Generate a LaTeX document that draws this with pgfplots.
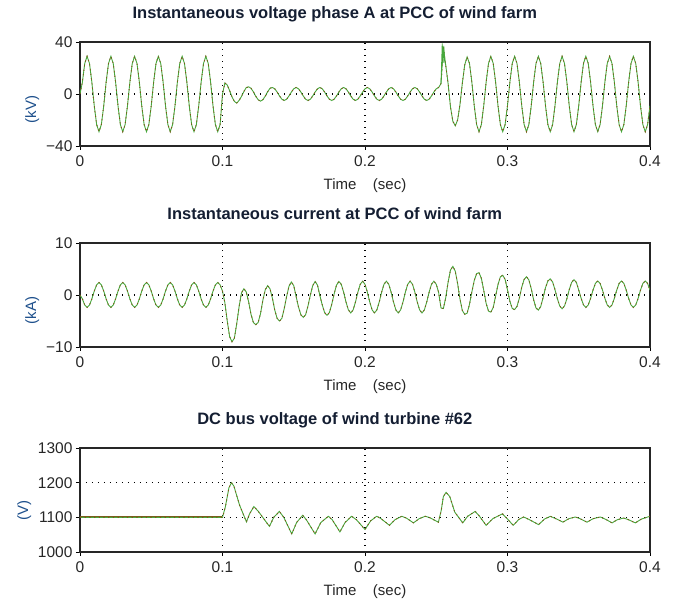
\documentclass[border=0pt]{standalone}
\usepackage{fontspec}
\setmainfont{Liberation Sans}
\usepackage{pgfplots}
\pgfplotsset{compat=1.18}
\usepackage{pgfplotstable}
\definecolor{lgreen}{RGB}{70,168,60}
\definecolor{lbrown}{RGB}{130,85,25}
\definecolor{ttl}{RGB}{20,30,50}
\definecolor{ylab}{RGB}{30,80,140}

\pgfplotstableread{
t v i
0 0.0 0.00
0.00167 9.0 -0.74
0.00333 23.5 -1.94
0.005 29.0 -2.40
0.00667 23.5 -1.94
0.00833 9.0 -0.74
0.01 -9.0 0.74
0.01167 -23.5 1.94
0.01333 -29.0 2.40
0.015 -23.5 1.94
0.01667 -9.0 0.74
0.01833 9.0 -0.74
0.02 23.5 -1.94
0.02167 29.0 -2.40
0.02333 23.5 -1.94
0.025 9.0 -0.74
0.02667 -9.0 0.74
0.02833 -23.5 1.94
0.03 -29.0 2.40
0.03167 -23.5 1.94
0.03333 -9.0 0.74
0.035 9.0 -0.74
0.03667 23.5 -1.94
0.03833 29.0 -2.40
0.04 23.5 -1.94
0.04167 9.0 -0.74
0.04333 -9.0 0.74
0.045 -23.5 1.94
0.04667 -29.0 2.40
0.04833 -23.5 1.94
0.05 -9.0 0.74
0.05167 9.0 -0.74
0.05333 23.5 -1.94
0.055 29.0 -2.40
0.05667 23.5 -1.94
0.05833 9.0 -0.74
0.06 -9.0 0.74
0.06167 -23.5 1.94
0.06333 -29.0 2.40
0.065 -23.5 1.94
0.06667 -9.0 0.74
0.06833 9.0 -0.74
0.07 23.5 -1.94
0.07167 29.0 -2.40
0.07333 23.5 -1.94
0.075 9.0 -0.74
0.07667 -9.0 0.74
0.07833 -23.5 1.94
0.08 -29.0 2.40
0.08167 -23.5 1.94
0.08333 -9.0 0.74
0.085 9.0 -0.74
0.08667 23.5 -1.94
0.08833 29.0 -2.40
0.09 23.5 -1.94
0.09167 9.0 -0.74
0.09333 -9.0 0.74
0.095 -23.5 1.94
0.09667 -29.0 2.40
0.09833 -23.5 1.94
0.1 0.0 0.74
0.10167 8.5 -1.5
0.10333 6.9 -5.0
0.105 2.6 -8.0
0.10667 -2.2 -9.0
0.10833 -5.7 -8.3
0.11 -7.0 -5.5
0.11167 -4.9 -2.2
0.11333 -1.9 0.4
0.115 1.9 1.2
0.11667 4.9 0.6
0.11833 5.5 -1.3
0.12 4.4 -3.7
0.12167 1.7 -5.3
0.12333 -1.7 -5.7
0.125 -4.4 -5.3
0.12667 -5.5 -3.6
0.12833 -4.4 -1.0
0.13 -1.7 1.0
0.13167 1.7 1.8
0.13333 4.4 1.2
0.135 5.0 -0.6
0.13667 4.0 -2.9
0.13833 1.5 -4.5
0.14 -1.5 -5.0
0.14167 -4.0 -4.5
0.14333 -5.0 -2.6
0.145 -4.0 -0.3
0.14667 -1.5 1.7
0.14833 1.5 2.5
0.15 4.0 1.8
0.15167 5.0 -0.3
0.15333 4.0 -2.3
0.155 1.5 -3.8
0.15667 -1.5 -4.3
0.15833 -4.0 -3.8
0.16 -5.0 -2.1
0.16167 -4.0 0.0
0.16333 -1.5 1.8
0.165 1.5 2.6
0.16667 4.0 1.9
0.16833 5.0 -0.1
0.17 4.0 -1.9
0.17167 1.5 -3.4
0.17333 -1.5 -3.9
0.175 -4.0 -3.4
0.17667 -5.0 -1.8
0.17833 -4.0 0.2
0.18 -1.5 1.9
0.18167 1.5 2.6
0.18333 4.0 2.07
0.185 5.0 0.54
0.18667 4.0 -1.34
0.18833 1.5 -2.87
0.19 -1.5 -3.45
0.19167 -4.0 -2.87
0.19333 -5.0 -1.34
0.195 -4.0 0.54
0.19667 -1.5 2.07
0.19833 1.5 2.65
0.2 4.0 2.07
0.20167 5.0 0.54
0.20333 4.0 -1.34
0.205 1.5 -2.87
0.20667 -1.5 -3.45
0.20833 -4.0 -2.87
0.21 -5.0 -1.34
0.21167 -4.0 0.54
0.21333 -1.5 2.07
0.215 1.5 2.65
0.21667 4.0 2.07
0.21833 5.0 0.54
0.22 4.0 -1.34
0.22167 1.5 -2.87
0.22333 -1.5 -3.45
0.225 -4.0 -2.87
0.22667 -5.0 -1.34
0.22833 -4.0 0.54
0.23 -1.5 2.07
0.23167 1.5 2.65
0.23333 4.0 2.07
0.235 5.0 0.54
0.23667 4.0 -1.34
0.23833 1.5 -2.87
0.24 -1.5 -3.45
0.24167 -4.0 -2.87
0.24333 -5.0 -1.34
0.245 -4.0 0.54
0.24667 -1.5 2.07
0.24833 1.5 2.65
0.25 4.0 2.07
0.25167 5.0 0.5
0.25333 8.0 -2.5
0.255 36.0 -2.6
0.25667 22.0 -0.5
0.25833 8.0 2.5
0.26 -10.0 4.8
0.26167 -21.0 5.5
0.26333 -24.5 4.6
0.265 -20.0 2.2
0.26667 -8.0 -0.8
0.26833 8.5 -3.0
0.27 22.5 -3.7
0.27167 28.5 -3.5
0.27333 23.5 -1.8
0.275 9.0 0.6
0.27667 -9.0 2.8
0.27833 -23.5 4.1
0.28 -29.0 4.3
0.28167 -23.5 3.2
0.28333 -9.0 0.9
0.285 9.0 -1.6
0.28667 23.5 -3.1
0.28833 29.0 -3.3
0.29 23.5 -2.4
0.29167 9.0 -0.2
0.29333 -9.0 2.0
0.295 -23.5 3.5
0.29667 -29.0 3.8
0.29833 -23.5 3.0
0.3 -9.0 1.0
0.30167 9.0 -1.2
0.30333 23.5 -2.6
0.305 29.0 -2.8
0.30667 23.5 -2.2
0.30833 9.0 -0.6
0.31 -9.0 1.5
0.31167 -23.5 3.0
0.31333 -29.0 3.5
0.315 -23.5 2.9
0.31667 -9.0 1.2
0.31833 9.0 -0.9
0.32 23.5 -2.5
0.32167 29.0 -2.9
0.32333 23.5 -2.2
0.325 9.0 -0.5
0.32667 -9.0 1.4
0.32833 -23.5 2.7
0.33 -29.0 3.1
0.33167 -23.5 2.5
0.33333 -9.0 1.02
0.335 9.0 -0.72
0.33667 23.5 -2.12
0.33833 29.0 -2.65
0.34 23.5 -2.12
0.34167 9.0 -0.72
0.34333 -9.0 1.02
0.345 -23.5 2.42
0.34667 -29.0 2.95
0.34833 -23.5 2.42
0.35 -9.0 0.94
0.35167 9.0 -0.64
0.35333 23.5 -1.91
0.355 29.0 -2.40
0.35667 23.5 -1.91
0.35833 9.0 -0.64
0.36 -9.0 0.94
0.36167 -23.5 2.21
0.36333 -29.0 2.70
0.365 -23.5 2.21
0.36667 -9.0 0.94
0.36833 9.0 -0.64
0.37 23.5 -1.91
0.37167 29.0 -2.40
0.37333 23.5 -1.91
0.375 9.0 -0.64
0.37667 -9.0 0.94
0.37833 -23.5 2.21
0.38 -29.0 2.70
0.38167 -23.5 2.21
0.38333 -9.0 0.94
0.385 9.0 -0.64
0.38667 23.5 -1.91
0.38833 29.0 -2.40
0.39 23.5 -1.91
0.39167 9.0 -0.64
0.39333 -9.0 0.94
0.395 -23.5 2.21
0.39667 -29.0 2.70
0.39833 -23.5 2.21
0.4 -9.0 0.94
}\ac

\pgfplotstableread{
t dc
0 1100
0.1 1100
0.102 1130
0.1045 1185
0.1063 1200
0.108 1190
0.112 1135
0.1168 1087
0.119 1110
0.122 1131
0.125 1118
0.1329 1074
0.136 1100
0.1399 1117
0.143 1100
0.1486 1052
0.152 1085
0.1563 1106
0.159 1092
0.165 1052
0.169 1085
0.1743 1103
0.177 1093
0.1824 1058
0.186 1085
0.1906 1103
0.194 1093
0.2 1065
0.204 1090
0.2082 1103
0.211 1097
0.2171 1077
0.221 1093
0.2258 1103
0.229 1098
0.234 1084
0.238 1096
0.2422 1103
0.245 1100
0.2515 1086
0.2535 1120
0.255 1160
0.2569 1172
0.2595 1160
0.263 1115
0.2686 1084
0.272 1103
0.2773 1117
0.280 1105
0.285 1077
0.290 1097
0.2965 1110
0.300 1095
0.3040 1077
0.308 1094
0.3113 1101
0.315 1094
0.3218 1079
0.326 1095
0.33 1103
0.334 1096
0.3389 1086
0.343 1096
0.3476 1101
0.351 1096
0.3558 1086
0.360 1096
0.3652 1101
0.369 1094
0.3734 1084
0.377 1093
0.3815 1098
0.385 1093
0.3897 1084
0.394 1095
0.4 1103
}\dcbus

\pgfplotsset{
  panel/.style={
    scale only axis, width=570pt, height=104pt,
    xmin=0, xmax=0.4, xtick={0,0.1,0.2,0.3,0.4},
    xticklabels={0,0.1,0.2,0.3,0.4},
    tick pos=left,
    tick align=outside, major tick length=4pt,
    tick style={black, line width=0.9pt},
    axis line style={line width=1.1pt, black!85},
    xmajorgrids, ymajorgrids,
    grid style={black, line width=1.1pt, dash pattern=on 1.4pt off 4.6pt},
    ticklabel style={font=\fontsize{15.5}{18}\selectfont, text=black!85},
    xticklabel style={yshift=-2pt},
    xlabel={Time\hspace{1.1em}(sec)},
    xlabel style={font=\fontsize{15}{18}\selectfont, text=black!85, at={(axis description cs:0.5,0)}, anchor=base, yshift=-44pt},
    title style={font=\fontsize{16.5}{20}\selectfont\bfseries, text=ttl, at={(axis description cs:0.447,1)}, anchor=base, yshift=17pt},
    ylabel style={font=\fontsize{15}{18}\selectfont, text=ylab, at={(ticklabel cs:0.35)}},
    every axis plot/.append style={no markers},
  },
  gr/.style={lgreen, line width=0.9pt},
  br/.style={lbrown, line width=0.9pt, dash pattern=on 1.2pt off 3.5pt},
}

\begin{document}
\begin{tikzpicture}
\begin{axis}[panel, at={(0,0)}, anchor=north west,
  title={Instantaneous voltage phase A at PCC of wind farm},
  ymin=-40, ymax=40, ytick={-40,0,40}, yticklabels={−40,0,40},
  ylabel={(kV)}]
\addplot[gr] table[x=t, y=v] {\ac};
\addplot[br] table[x=t, y=v] {\ac};
\addplot[lgreen, line width=0.8pt] coordinates {(0.25333,8) (0.2542,39) (0.2548,24) (0.2553,37) (0.2558,26) (0.25667,22)};
\end{axis}
\begin{axis}[panel, at={(0,-201pt)}, anchor=north west,
  title={Instantaneous current at PCC of wind farm},
  ymin=-10, ymax=10, ytick={-10,0,10}, yticklabels={−10,0,10},
  ylabel={(kA)}]
\addplot[gr] table[x=t, y=i] {\ac};
\addplot[br] table[x=t, y=i] {\ac};
\end{axis}
\begin{axis}[panel, at={(0,-406pt)}, anchor=north west,
  title={DC bus voltage of wind turbine \#62},
  ymin=1000, ymax=1300, ytick={1000,1100,1200,1300},
  yticklabels={1000,1100,1200,1300},
  ylabel={(V)}, ylabel style={at={(ticklabel cs:0.4)}}]
\addplot[lbrown, line width=2pt] coordinates {(0,1100) (0.1,1100)};
\addplot[gr] table[x=t, y=dc] {\dcbus};
\addplot[br] table[x=t, y=dc] {\dcbus};
\end{axis}
\pgfresetboundingbox
\path (-80pt,42pt) rectangle (593pt,-559pt);
\end{tikzpicture}
\end{document}
